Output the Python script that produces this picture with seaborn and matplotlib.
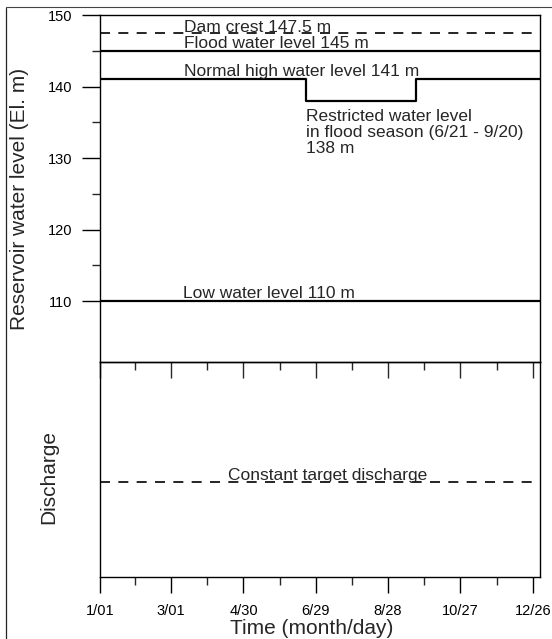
import matplotlib
matplotlib.use("Agg")
import matplotlib.pyplot as plt
from matplotlib.lines import Line2D
from matplotlib.ticker import FixedLocator
import numpy as np
import pandas as pd
import seaborn as sns

# Characteristic reservoir levels (El. m)
dam_crest = 147.5
flood_level = 145.0
normal_high = 141.0
restricted_level = 138.0
low_level = 110.0

# Flood season as day of year (6/21 - 9/20)
flood_start_day = 172
flood_end_day = 263
year_start_day = 1
year_end_day = 366

# Relative target discharge (lower panel, arbitrary scale 0-1)
target_discharge = 0.44

# Time axis ticks (day of year) and their month/day labels
major_days = [1, 60, 120, 180, 240, 300, 360]
major_labels = ["1/01", "3/01", "4/30", "6/29", "8/28", "10/27", "12/26"]
minor_days = [30, 90, 150, 210, 270, 330]

level_ticks = [110, 120, 130, 140, 150]
level_minor_ticks = [115, 125, 135, 145]

sns.set_theme(style="white")
plt.rcParams["font.family"] = ["Liberation Sans", "DejaVu Sans"]

W, H = 552, 639
fig = plt.figure(figsize=(W / 100, H / 100), dpi=100)
ax1 = fig.add_axes([100 / W, 1 - 362 / H, 440 / W, (362 - 15) / H])
ax2 = fig.add_axes([100 / W, 1 - 577 / H, 440 / W, (577 - 362) / H])
ax2.patch.set_visible(False)

line_kw = dict(color="black", legend=False, estimator=None, sort=False)

# Horizontal level lines across the year
def hline(ax, value, **kw):
    df = pd.DataFrame({"day": [year_start_day, year_end_day], "v": [value, value]})
    sns.lineplot(data=df, x="day", y="v", ax=ax, **line_kw, **kw)

hline(ax1, dam_crest, linewidth=1.2, dashes=(6, 5))
hline(ax1, flood_level, linewidth=1.6)
hline(ax1, low_level, linewidth=1.6)

# Normal high level with the flood-season drawdown
step = pd.DataFrame({
    "day": [year_start_day, flood_start_day, flood_start_day,
            flood_end_day, flood_end_day, year_end_day],
    "v": [normal_high, normal_high, restricted_level,
          restricted_level, normal_high, normal_high],
})
sns.lineplot(data=step, x="day", y="v", ax=ax1, linewidth=1.6, **line_kw)

hline(ax2, target_discharge, linewidth=1.2, dashes=(6, 5))

fs = 12.5
ax1.text(71, dam_crest + 0.1, f"Dam crest {dam_crest:g} m", fontsize=fs, va="baseline")
ax1.text(71, flood_level + 0.45, f"Flood water level {flood_level:g} m", fontsize=fs, va="baseline")
ax1.text(71, normal_high + 0.45, f"Normal high water level {normal_high:g} m", fontsize=fs, va="baseline")
ax1.text(70, low_level + 0.4, f"Low water level {low_level:g} m", fontsize=fs, va="baseline")
ax1.text(172, 136.9,
         "Restricted water level\nin flood season (6/21 - 9/20)\n"
         f"{restricted_level:g} m",
         fontsize=fs, va="top", ha="left", linespacing=1.1)
ax2.text(190, target_discharge + 0.01, "Constant target discharge",
         fontsize=fs, va="baseline", ha="center")

# Upper panel axes
ax1.set_xlim(year_start_day, year_end_day)
ax1.set_ylim(101.5, 150)
ax1.set_xlabel("")
ax1.set_ylabel("")
ax1.yaxis.set_major_locator(FixedLocator(level_ticks))
ax1.yaxis.set_minor_locator(FixedLocator(level_minor_ticks))
ax1.xaxis.set_major_locator(FixedLocator(major_days))
ax1.xaxis.set_minor_locator(FixedLocator(minor_days))
ax1.tick_params(axis="y", which="major", left=True, direction="out", length=13,
                width=1, labelsize=10.5, pad=7, colors="black")
ax1.tick_params(axis="y", which="minor", left=True, direction="out", length=6, width=1)
ax1.tick_params(axis="x", which="major", bottom=True, direction="out", length=11.5,
                width=1, labelbottom=False)
ax1.tick_params(axis="x", which="minor", bottom=True, direction="out", length=6, width=1)

# Lower panel axes
ax2.set_xlim(year_start_day, year_end_day)
ax2.set_ylim(0, 1)
ax2.set_xlabel("")
ax2.set_ylabel("")
ax2.set_yticks([])
ax2.xaxis.set_major_locator(FixedLocator(major_days))
ax2.xaxis.set_minor_locator(FixedLocator(minor_days))
ax2.set_xticklabels(major_labels)
ax2.tick_params(axis="x", which="major", bottom=True, direction="out", length=11.5,
                width=1, labelsize=10.5, pad=8, colors="black")
ax2.tick_params(axis="x", which="minor", bottom=True, direction="out", length=6, width=1)

for ax in (ax1, ax2):
    for sp in ax.spines.values():
        sp.set_color("black")
        sp.set_linewidth(1.0)

fig.text(20 / W, 1 - 199 / H, "Reservoir water level (El. m)", rotation=90,
         fontsize=15, ha="center", va="center")
fig.text(49 / W, 1 - 477 / H, "Discharge", rotation=90,
         fontsize=15, ha="center", va="center")
fig.text(312 / W, 1 - 628 / H, "Time (month/day)", fontsize=15,
         ha="center", va="center")

# Outer frame
fig.add_artist(Line2D([6 / W, 6 / W], [1 - 8 / H, 0], transform=fig.transFigure,
                      color="#222222", linewidth=0.9))
fig.add_artist(Line2D([6 / W, 1], [1 - 7 / H, 1 - 7 / H], transform=fig.transFigure,
                      color="#444444", linewidth=0.8))

fig.savefig("out.png", dpi=100)
